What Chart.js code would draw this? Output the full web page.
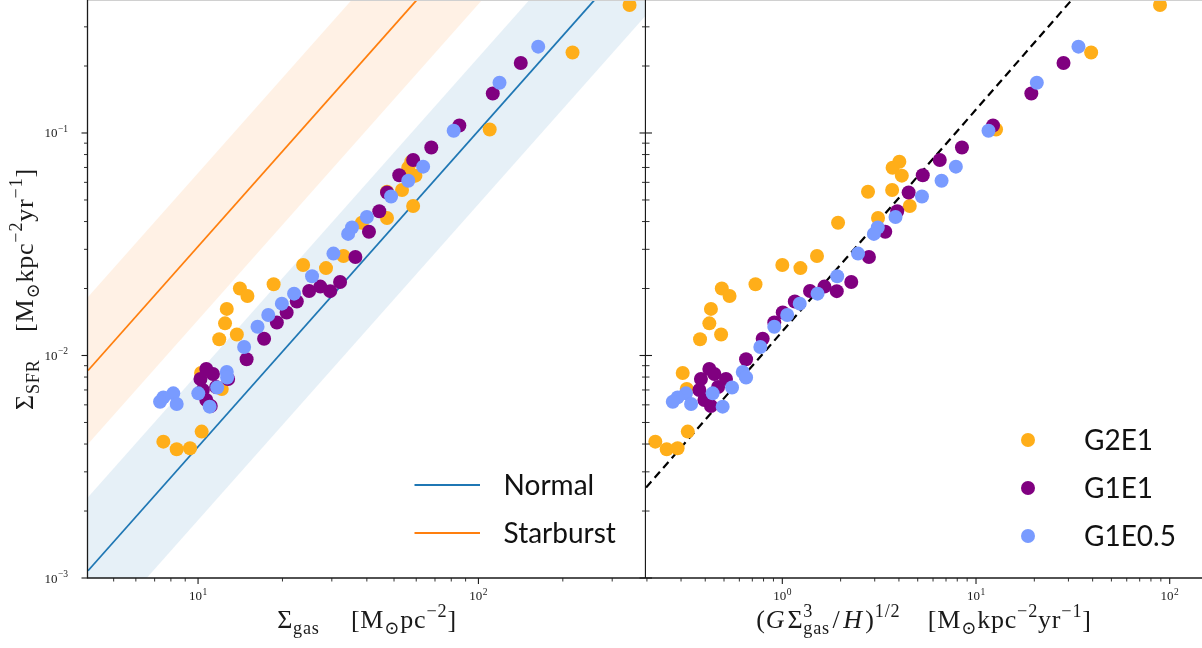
<!DOCTYPE html>
<html><head><meta charset="utf-8">
<script src="https://cdn.jsdelivr.net/npm/chart.js@4.4.1/dist/chart.umd.min.js"></script>
<style>
html,body{margin:0;padding:0;background:#fff}
#wrap{position:relative;width:1202px;height:648px;overflow:hidden;background:#fff}
canvas{position:absolute;top:0}
</style>
</head><body>
<div id="wrap">
<canvas id="cl" width="646" height="648" style="left:0;width:646px;height:648px"></canvas>
<canvas id="cr" width="556" height="648" style="left:646px;width:556px;height:648px"></canvas>
</div>
<script>
// ---------------- data ----------------
const seriesNames = ['G2E1', 'G1E1', 'G1E0.5'];

// G2E1
const g2e1Gas = [346, 216.6, 109.7, 57.6, 56.2, 59.6, 47.2, 53.4, 58.5, 47.2, 38.4, 33.0, 23.7, 28.6, 18.6, 14.1, 15.0, 12.66, 12.48, 11.9, 13.75, 10.25, 12.15, 10.3, 7.52, 8.39, 9.36];
const g2e1X   = [89.1, 39.3, 12.69, 4.02, 3.71, 4.14, 2.77, 3.69, 4.55, 3.12, 1.94, 1.51, 1.00, 1.24, 0.727, 0.487, 0.534, 0.428, 0.420, 0.376, 0.483, 0.306, 0.321, 0.325, 0.221, 0.253, 0.288];
const g2e1Sfr = [0.376, 0.230, 0.1037, 0.0743, 0.0698, 0.0643, 0.0544, 0.0554, 0.0470, 0.0415, 0.0395, 0.0280, 0.0255, 0.0247, 0.0209, 0.0200, 0.0185, 0.0162, 0.01395, 0.01183, 0.01243, 0.00834, 0.00707, 0.00455, 0.00410, 0.00379, 0.00383];

// G1E1
const g1e1Gas = [141.6, 112.5, 85.5, 67.9, 58.5, 52.2, 47.2, 44.3, 40.7, 36.4, 32.1, 27.3, 29.6, 24.9, 22.5, 20.7, 19.1, 17.2, 14.9, 10.7, 11.3, 10.2, 12.8, 11.6, 10.4, 10.7, 11.1];
const g1e1X   = [28.3, 19.3, 12.24, 8.46, 6.50, 5.31, 4.49, 3.92, 3.40, 2.80, 2.27, 1.65, 1.91, 1.39, 1.16, 1.005, 0.909, 0.792, 0.650, 0.420, 0.446, 0.380, 0.512, 0.466, 0.373, 0.396, 0.428];
const g1e1Sfr = [0.2064, 0.1505, 0.108, 0.0860, 0.0756, 0.0646, 0.0540, 0.0445, 0.0360, 0.0277, 0.0214, 0.0204, 0.01946, 0.0195, 0.01748, 0.0156, 0.01407, 0.01189, 0.00962, 0.00869, 0.00826, 0.00784, 0.00784, 0.00722, 0.00700, 0.00631, 0.00593];

// G1E0.5
const g1e05Gas = [163.4, 118.9, 81.6, 63.5, 56.2, 48.8, 40.0, 35.4, 34.3, 30.4, 25.5, 22.0, 19.9, 17.8, 16.3, 14.6, 12.66, 12.7, 11.7, 10.02, 11.0, 8.16, 7.52, 7.32, 8.39];
const g1e05X   = [33.8, 20.6, 11.6, 7.87, 6.64, 5.26, 3.84, 3.11, 2.97, 2.46, 1.92, 1.52, 1.23, 1.06, 0.909, 0.770, 0.625, 0.65, 0.550, 0.437, 0.492, 0.318, 0.288, 0.272, 0.338];
const g1e05Sfr = [0.2443, 0.1683, 0.1024, 0.0706, 0.0610, 0.0518, 0.0419, 0.0376, 0.0352, 0.0287, 0.0227, 0.01896, 0.0171, 0.0152, 0.01347, 0.01092, 0.00843, 0.00796, 0.00718, 0.00676, 0.00589, 0.00676, 0.00648, 0.0062, 0.00605];

// reference relations (end points)
const lawX          = [4.05, 396];
const normalY       = [0.001078, 0.722];
const normalUpperY  = [0.002305, 1.544];
const normalLowerY  = [0.000504, 0.338];
const starburstY      = [0.00856, 5.74];
const starburstUpperY = [0.0183, 12.27];
const starburstLowerY = [0.0040, 2.68];
const dashX = [0.198, 40];
const dashY = [0.00255, 0.508];

// axis ranges and ticks
const gasRange = [4.05, 396];
const xRightRange = [0.1978, 146.8];
const sfrRange = [0.001, 0.396];
const leftXTickValues = [10, 100];
const leftXTickExps = ['1', '2'];
const rightXTickValues = [1, 10, 100];
const rightXTickExps = ['0', '1', '2'];
const yTickValues = [0.001, 0.01, 0.1];
const yTickExps = ['\u22123', '\u22122', '\u22121'];

const colors = { G2E1: '#ffae19', G1E1: '#800080', 'G1E0.5': '#799bff' };
const lineLegend = ['Normal', 'Starburst'];

// ---------------- helpers ----------------
const SERIF = '"Liberation Serif", "DejaVu Serif", serif';
const SANS = 'Lato, "Open Sans", sans-serif';
const zip = (xs, ys) => xs.map((x, i) => ({ x, y: ys[i] }));

function logMinor(min, max) {
  const out = [];
  for (let e = Math.floor(Math.log10(min)) - 1; e <= Math.ceil(Math.log10(max)); e++) {
    for (let k = 1; k <= 9; k++) {
      const v = k * Math.pow(10, e);
      if (v >= min * 0.9999 && v <= max * 1.0001) out.push({ v, major: k === 1 });
    }
  }
  return out;
}

function runFont(r, size) {
  const s = (r.k === 'sub' || r.k === 'sup') ? size * 0.7 : size;
  return (r.it ? 'italic ' : '') + s + 'px ' + SERIF;
}
function richWidth(ctx, runs, size) {
  let w = 0;
  runs.forEach(r => {
    if (r.gap) { w += r.gap * size; return; }
    ctx.font = runFont(r, size);
    if (!r.noAdv) w += ctx.measureText(r.t).width;
  });
  return w;
}
function drawRich(ctx, runs, x, y, size) {
  ctx.letterSpacing = '0.8px';
  let cx = x - richWidth(ctx, runs, size) / 2;
  ctx.textAlign = 'left'; ctx.textBaseline = 'alphabetic';
  runs.forEach(r => {
    if (r.gap) { cx += r.gap * size; return; }
    ctx.font = runFont(r, size);
    const dy = r.k === 'sub' ? size * 0.22 : r.k === 'sup' ? -size * 0.42 : 0;
    ctx.fillText(r.t, cx, y + dy);
    if (!r.noAdv) cx += ctx.measureText(r.t).width;
  });
  ctx.letterSpacing = '0px';
}
function powLabel(ctx, x, y, exp, align) {
  ctx.font = '13px ' + SERIF; const wb = ctx.measureText('10').width;
  ctx.font = '9.5px ' + SERIF; const we = ctx.measureText(exp).width;
  const tot = wb + we + 0.5;
  const x0 = align === 'center' ? x - tot / 2 : x - tot;
  ctx.textAlign = 'left'; ctx.textBaseline = 'alphabetic';
  ctx.font = '13px ' + SERIF; ctx.fillText('10', x0, y);
  ctx.font = '9.5px ' + SERIF; ctx.fillText(exp, x0 + wb + 0.5, y - 5.5);
}

const TITLE_SIZE = 26;
const leftXTitle = [{t:'\u03A3'},{t:'gas',k:'sub'},{gap:1.2},{t:'[M'},{t:'\u2299',k:'sub'},{t:'pc'},{t:'\u22122',k:'sup'},{t:']'}];
const rightXTitle = [{t:'('},{t:'G',it:1},{gap:0.08},{t:'\u03A3'},{t:'3',k:'sup',noAdv:1},{t:'gas',k:'sub'},{gap:0.1},{t:'/'},{gap:0.1},{t:'H',it:1},{gap:0.1},{t:')'},{t:'1/2',k:'sup'},{gap:1.05},{t:'[M'},{t:'\u2299',k:'sub'},{t:'kpc'},{t:'\u22122',k:'sup'},{t:'yr'},{t:'\u22121',k:'sup'},{t:']'}];
const yTitle = [{t:'\u03A3'},{t:'SFR',k:'sub'},{gap:1.05},{t:'[M'},{t:'\u2299',k:'sub'},{t:'kpc'},{t:'\u22122',k:'sup'},{t:'yr'},{t:'\u22121',k:'sup'},{t:']'}];

const framePlugin = {
  id: 'frame',
  afterDraw(chart, args, o) {
    const ctx = chart.ctx, a = chart.chartArea;
    const xs = chart.scales.x, ys = chart.scales.y;
    ctx.save();
    // top edge
    ctx.strokeStyle = '#d0d0d0'; ctx.lineWidth = 1;
    ctx.beginPath(); ctx.moveTo(a.left, 0.5); ctx.lineTo(a.right, 0.5); ctx.stroke();
    // spines
    ctx.strokeStyle = '#1a1a1a'; ctx.fillStyle = '#1a1a1a'; ctx.lineWidth = 1.3;
    ctx.beginPath();
    ctx.moveTo(a.left - 1.15, a.bottom); ctx.lineTo(a.right, a.bottom);
    if (o.leftSpine) { ctx.moveTo(a.left - 0.5, a.top); ctx.lineTo(a.left - 0.5, a.bottom); }
    if (o.rightSpine) { ctx.moveTo(a.right - 0.5, a.top); ctx.lineTo(a.right - 0.5, a.bottom); }
    ctx.stroke();
    // x ticks
    logMinor(xs.min, xs.max).forEach(t => {
      const px = xs.getPixelForValue(t.v);
      ctx.lineWidth = t.major ? 1.1 : 0.9;
      ctx.beginPath(); ctx.moveTo(px, a.bottom); ctx.lineTo(px, a.bottom + (t.major ? 6 : 3.5)); ctx.stroke();
    });
    // y ticks
    logMinor(ys.min, ys.max).forEach(t => {
      const py = ys.getPixelForValue(t.v);
      const len = t.major ? 6 : 3.5;
      ctx.lineWidth = t.major ? 1.1 : 0.9;
      o.yTickSides.forEach(s => {
        const x0 = s === 'leftOut' ? a.left - 0.5 : s === 'rightIn' ? a.right - 0.5 : a.left;
        const d = s === 'leftOut' ? -len : s === 'rightIn' ? -len : len;
        ctx.beginPath(); ctx.moveTo(x0, py); ctx.lineTo(x0 + d, py); ctx.stroke();
      });
    });
    // tick labels
    o.xTicks.values.forEach((v, i) => powLabel(ctx, xs.getPixelForValue(v), a.bottom + 22, o.xTicks.exps[i], 'center'));
    if (o.yTicks) o.yTicks.values.forEach((v, i) => powLabel(ctx, a.left - 20, ys.getPixelForValue(v) + 4.5, o.yTicks.exps[i], 'right'));
    // titles
    drawRich(ctx, o.xTitle, (a.left + a.right) / 2, a.bottom + 50, TITLE_SIZE);
    if (o.yTitle) {
      ctx.save(); ctx.translate(33, (a.top + a.bottom) / 2); ctx.rotate(-Math.PI / 2);
      drawRich(ctx, o.yTitle, 0, 0, TITLE_SIZE); ctx.restore();
    }
    // legends
    ctx.font = '28px ' + SANS; ctx.textAlign = 'left'; ctx.textBaseline = 'alphabetic';
    if (o.lineLegend) {
      const L = o.lineLegend;
      L.labels.forEach((lab, i) => {
        const y = L.y0 + i * L.dy;
        ctx.strokeStyle = L.colors[i]; ctx.lineWidth = 2;
        ctx.beginPath(); ctx.moveTo(L.x0, y); ctx.lineTo(L.x1, y); ctx.stroke();
        ctx.fillStyle = '#111'; ctx.fillText(lab, L.tx, y + 10);
      });
    }
    if (o.dotLegend) {
      const L = o.dotLegend;
      L.labels.forEach((lab, i) => {
        const y = L.y0 + i * L.dy;
        ctx.fillStyle = L.colors[i];
        ctx.beginPath(); ctx.arc(L.x0, y, 7, 0, Math.PI * 2); ctx.fill();
        ctx.fillStyle = '#111'; ctx.fillText(lab, L.tx, y + 10);
      });
    }
    ctx.restore();
  }
};

function pointSet(label, xs, ys, order) {
  return { type: 'scatter', label, data: zip(xs, ys), backgroundColor: colors[label], borderWidth: 0,
           pointRadius: 7, pointHoverRadius: 7, order };
}
function lineSet(label, xs, ys, color, order, extra) {
  return Object.assign({ type: 'line', label, data: zip(xs, ys), borderColor: color, borderWidth: 1.8,
           pointRadius: 0, tension: 0, fill: false, order }, extra || {});
}

const common = {
  responsive: false, animation: false, devicePixelRatio: 1, events: [],
  plugins: { legend: { display: false }, tooltip: { enabled: false } }
};

new Chart(document.getElementById('cl'), {
  type: 'scatter',
  data: { datasets: [
    lineSet('normal band', lawX, normalUpperY, 'rgba(0,0,0,0)', 6, { borderWidth: 0, fill: '+1', backgroundColor: 'rgba(31,119,180,0.11)' }),
    lineSet('normal band low', lawX, normalLowerY, 'rgba(0,0,0,0)', 6, { borderWidth: 0 }),
    lineSet('starburst band', lawX, starburstUpperY, 'rgba(0,0,0,0)', 6, { borderWidth: 0, fill: '+1', backgroundColor: 'rgba(255,127,14,0.11)' }),
    lineSet('starburst band low', lawX, starburstLowerY, 'rgba(0,0,0,0)', 6, { borderWidth: 0 }),
    lineSet('Normal', lawX, normalY, '#1f77b4', 5),
    lineSet('Starburst', lawX, starburstY, '#ff7f0e', 5),
    pointSet('G2E1', g2e1Gas, g2e1Sfr, 3),
    pointSet('G1E1', g1e1Gas, g1e1Sfr, 2),
    pointSet('G1E0.5', g1e05Gas, g1e05Sfr, 1)
  ]},
  options: Object.assign({}, common, {
    layout: { autoPadding: false, padding: { left: 88, right: 0, top: 0, bottom: 70 } },
    scales: {
      x: { type: 'logarithmic', min: gasRange[0], max: gasRange[1], display: false },
      y: { type: 'logarithmic', min: sfrRange[0], max: sfrRange[1], display: false }
    },
    plugins: Object.assign({}, common.plugins, {
      frame: {
        leftSpine: true, rightSpine: true, yTickSides: ['leftOut', 'rightIn'],
        xTicks: { values: leftXTickValues, exps: leftXTickExps },
        yTicks: { values: yTickValues, exps: yTickExps },
        xTitle: leftXTitle, yTitle: yTitle,
        lineLegend: { labels: lineLegend, colors: ['#1f77b4', '#ff7f0e'], x0: 414.5, x1: 480, tx: 503.6, y0: 485, dy: 48 }
      }
    })
  }),
  plugins: [framePlugin]
});

new Chart(document.getElementById('cr'), {
  type: 'scatter',
  data: { datasets: [
    lineSet('efficiency', dashX, dashY, '#000', 5, { borderWidth: 2.2, borderDash: [8, 5] }),
    pointSet('G2E1', g2e1X, g2e1Sfr, 3),
    pointSet('G1E1', g1e1X, g1e1Sfr, 2),
    pointSet('G1E0.5', g1e05X, g1e05Sfr, 1)
  ]},
  options: Object.assign({}, common, {
    layout: { autoPadding: false, padding: { left: 0, right: 0, top: 0, bottom: 70 } },
    scales: {
      x: { type: 'logarithmic', min: xRightRange[0], max: xRightRange[1], display: false },
      y: { type: 'logarithmic', min: sfrRange[0], max: sfrRange[1], display: false }
    },
    plugins: Object.assign({}, common.plugins, {
      frame: {
        leftSpine: false, rightSpine: false, yTickSides: ['leftIn'],
        xTicks: { values: rightXTickValues, exps: rightXTickExps },
        xTitle: rightXTitle,
        dotLegend: { labels: seriesNames, colors: seriesNames.map(n => colors[n]), x0: 382, tx: 438, y0: 440, dy: 48 }
      }
    })
  }),
  plugins: [framePlugin]
});
</script>
</body></html>
